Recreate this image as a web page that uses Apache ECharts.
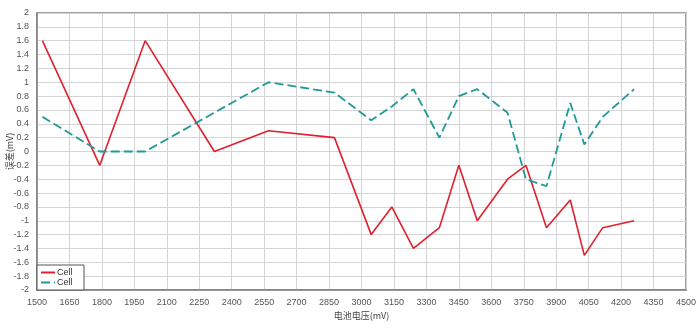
<!DOCTYPE html>
<html>
<head>
<meta charset="utf-8">
<script src="https://cdn.jsdelivr.net/npm/echarts@6/dist/echarts.min.js"></script>
<style>html,body{margin:0;padding:0;background:#fff}#c{width:700px;height:328px}</style>
</head>
<body>
<div id="c"></div>
<script>
// Battery voltage (mV) at each sample
const voltages = [1525, 1790, 2000, 2320, 2570, 2875, 3045, 3140, 3240, 3360, 3450, 3535, 3675, 3760, 3855, 3965, 4030, 4115, 4260];
// Error series (mV)
const cellRed  = [1.6, -0.2, 1.6, 0, 0.3, 0.2, -1.2, -0.8, -1.4, -1.1, -0.2, -1.0, -0.4, -0.2, -1.1, -0.7, -1.5, -1.1, -1.0];
const cellTeal = [0.5, 0, 0, null, 1.0, 0.85, 0.45, 0.65, 0.9, 0.2, 0.8, 0.9, 0.56, -0.4, -0.5, 0.7, 0.1, 0.5, 0.9];
const seriesNames = ['Cell', 'Cell '];
const xName = '电池电压(mV)';
const yName = '误差(mV)';

const pairs = (ys) => voltages.map((x, i) => [x, ys[i]]);
const chart = echarts.init(document.getElementById('c'), null, {renderer: 'canvas'});
const labelStyle = {color: '#555', fontSize: 9, fontFamily: 'Liberation Sans, Arial, sans-serif'};
chart.setOption({
  animation: false,
  backgroundColor: '#fff',
  grid: {left: 37, right: 14, top: 13, bottom: 38, show: true, borderColor: '#808080', borderWidth: 1.5,
         containLabel: false, outerBoundsMode: 'none'},
  xAxis: {
    type: 'value', min: 1500, max: 4500, interval: 150,
    name: xName, nameLocation: 'middle', nameGap: 21, nameMoveOverlap: false,
    nameTextStyle: {color: '#444', fontSize: 9, fontFamily: 'Noto Sans CJK SC'},
    axisLine: {show: true, onZero: false, lineStyle: {color: '#808080', width: 1.5}},
    axisTick: {show: false},
    axisLabel: Object.assign({margin: 8, formatter: v => String(v)}, labelStyle),
    splitLine: {show: true, lineStyle: {color: '#d4d4d4', width: 1}}
  },
  yAxis: {
    type: 'value', min: -2, max: 2, interval: 0.2,
    name: yName, nameLocation: 'middle', nameGap: 23, nameRotate: 90, nameMoveOverlap: false,
    nameTextStyle: {color: '#444', fontSize: 9, fontFamily: 'Noto Sans CJK SC'},
    axisLine: {show: true, lineStyle: {color: '#808080', width: 1.5}},
    axisTick: {show: false},
    axisLabel: Object.assign({margin: 8, formatter: v => String(+v.toFixed(1))}, labelStyle),
    splitLine: {show: true, lineStyle: {color: '#d4d4d4', width: 1}}
  },
  legend: {
    orient: 'vertical', left: 37, top: 265,
    data: seriesNames,
    itemWidth: 14, itemHeight: 8, itemGap: 1,
    padding: [3, 9, 3, 3],
    itemStyle: {opacity: 0},
    backgroundColor: '#fff', borderColor: '#555', borderWidth: 1,
    textStyle: {color: '#333', fontSize: 9, fontFamily: 'Liberation Sans, Arial, sans-serif', padding: [0, 0, 0, -3]}
  },
  series: [
    {name: seriesNames[0], type: 'line', data: pairs(cellRed), showSymbol: false, symbol: 'none',
     lineStyle: {color: '#e0202e', width: 1.6}, itemStyle: {color: '#e0202e'}},
    {name: seriesNames[1], type: 'line', data: pairs(cellTeal), showSymbol: false, symbol: 'none', connectNulls: true,
     lineStyle: {color: '#1f9a98', width: 1.8, type: [9, 4]}, itemStyle: {color: '#1f9a98'}}
  ]
});
</script>
</body>
</html>
